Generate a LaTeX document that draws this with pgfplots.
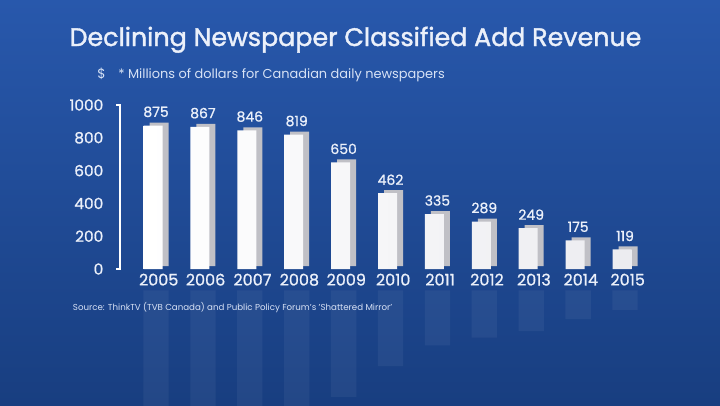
\documentclass[border=0pt]{standalone}
\usepackage{pgfplots}
\usepackage{pgfplotstable}
\pgfplotsset{compat=1.18}
\usepackage{fontspec}
\setmainfont{Poppins}
\newcommand\med{\addfontfeature{FakeBold=0.9}}
\definecolor{bgtop}{RGB}{40,88,172}
\definecolor{bgmid}{RGB}{30,76,158}
\definecolor{bgbot}{RGB}{24,62,128}
\definecolor{txt}{RGB}{235,240,250}
\definecolor{subtxt}{RGB}{215,226,245}
\definecolor{side}{RGB}{192,192,198}
\definecolor{front}{RGB}{236,236,240}

\pgfplotstableread{
x year value
0 2005 875
1 2006 867
2 2007 846
3 2008 819
4 2009 650
5 2010 462
6 2011 335
7 2012 289
8 2013 249
9 2014 175
10 2015 119
}\revenue

\begin{document}
\begin{tikzpicture}
  \useasboundingbox (0,0) rectangle (540pt,303.75pt);
  % background
  \shade[top color=bgtop, middle color=bgmid, bottom color=bgbot]
    (0,0) rectangle (540pt,303.75pt);

  % titles
  \node[anchor=base, text=txt, inner sep=0pt]
    at (266.6pt,269.25pt) {\fontsize{19}{23}\selectfont\addfontfeature{FakeBold=1.5}Declining Newspaper Classified Add Revenue};
  \node[anchor=base west, text=subtxt, inner sep=0pt]
    at (72.75pt,245.25pt) {\fontsize{10}{12}\selectfont \$};
  \node[anchor=base west, text=subtxt, inner sep=0pt]
    at (88.5pt,245.25pt) {\fontsize{9.7}{12}\selectfont * Millions of dollars for Canadian daily newspapers};
  \node[anchor=base west, text=subtxt, inner sep=0pt]
    at (54.5pt,71pt) {\fontsize{6.5}{8}\selectfont Source: ThinkTV (TVB Canada) and Public Policy Forum's 'Shattered Mirror'};

  \begin{axis}[
      at={(90pt,102pt)}, anchor=south west,
      scale only axis,
      width=406.9pt, height=123pt,
      xmin=-0.768, xmax=10.8,
      ymin=0, ymax=1000,
      axis line style={draw=none},
      major tick length=0pt,
      xtick=data,
      xticklabels from table={\revenue}{year},
      ytick={0,200,400,600,800,1000},
      xticklabel style={text=txt, font=\fontsize{12}{14}\selectfont\med, yshift=0pt, xshift=2pt},
      yticklabel style={text=txt, font=\fontsize{11.5}{13}\selectfont\med, anchor=east, xshift=-9pt},
      /pgf/number format/assume math mode=true,
      /pgf/number format/1000 sep={},
      clip=false,
    ]
    % faint reflection under the chart
    \addplot[ybar, bar width=19pt, bar shift=0pt, yshift=-16pt,
      fill=white, fill opacity=0.05, draw=none]
      table[x=x, y expr=-\thisrow{value}] {\revenue};
    % side and top of each bar
    \addplot[ybar, bar width=14.25pt, bar shift=2.25pt, yshift=2.25pt,
      fill=side, draw=none,
      nodes near coords,
      every node near coord/.append style={text=txt, font=\fontsize{10.5}{12}\selectfont\med, yshift=0.5pt}]
      table[x=x, y=value] {\revenue};
    % front of each bar
    \addplot[ybar, bar width=14.25pt, bar shift=-2.25pt,
      left color=white, right color=front, draw=none]
      table[x=x, y=value] {\revenue};

    % bracket axis
    \draw[white, line width=1.4pt]
      ([xshift=-3pt]rel axis cs:0,1) -- (rel axis cs:0,1)
      -- (rel axis cs:0,0) -- ([xshift=-3pt]rel axis cs:0,0);
  \end{axis}
\end{tikzpicture}
\end{document}
